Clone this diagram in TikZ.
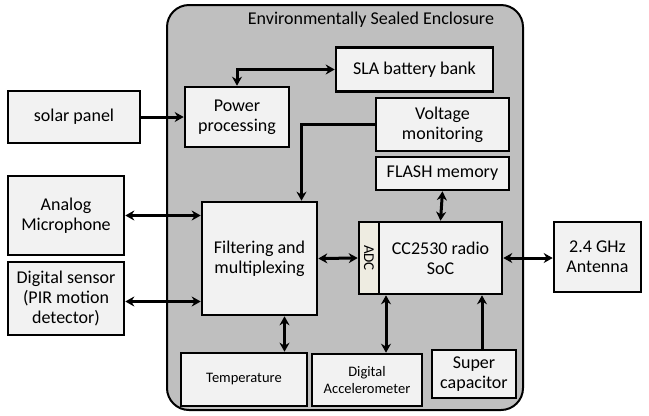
\documentclass[tikz,border=0pt]{standalone}
\usepackage{fontspec}
\setmainfont{Carlito}
\usepackage{tikz}
\usetikzlibrary{arrows.meta}
\usetikzlibrary{positioning}

\definecolor{encfill}{HTML}{BFBFBF}
\definecolor{boxfill}{HTML}{F2F2F2}
\definecolor{adcfill}{HTML}{EEECE1}

\tikzset{
  blk/.style={draw, line width=2.6bp, fill=boxfill, inner sep=0pt, align=center,
    font=\fontsize{18bp}{20bp}\selectfont},
  smallblk/.style={blk, font=\fontsize{14.5bp}{17bp}\selectfont},
  link/.style={line width=3bp},
  >={Stealth[length=9bp,width=10bp]}
}

\begin{document}
\begin{tikzpicture}[x=1bp,y=-1bp]
  \useasboundingbox (0,0) rectangle (649,415);
  \draw[line width=2bp, fill=encfill, rounded corners=22bp] (167,5) rectangle (523,410);
  \node(title) at (371,20) {\fontsize{18bp}{20bp}\selectfont Environmentally Sealed Enclosure};

  \node[blk, minimum width=157bp, minimum height=44bp](sla) at (414.5,69.5) {SLA battery bank};
  \node[blk, minimum width=104bp, minimum height=60bp](power) at (237,117) {Power\\processing};
  \node[blk, minimum width=133bp, minimum height=53bp](volt) at (442.5,124.5) {Voltage\\monitoring};
  \node[blk, minimum width=133bp, minimum height=33bp](flash) at (442.5,173.5) {FLASH memory};
  \node[blk, minimum width=123bp, minimum height=72bp](soc) at (440.5,258) {CC2530 radio\\SoC};
  \node[blk, fill=adcfill, minimum width=20bp, minimum height=72bp](adc) at (369,258) {};
  \node[rotate=-90, font=\fontsize{15bp}{17bp}\selectfont](adclabel) at (adc) {ADC};
  \node[blk, minimum width=115bp, minimum height=113bp](filt) at (259.5,258.5) {Filtering and\\multiplexing};
  \node[smallblk, minimum width=126bp, minimum height=53bp](temp) at (244,379.5) {Temperature};
  \node[smallblk, minimum width=110bp, minimum height=52bp](accel) at (367,380) {Digital\\Accelerometer};
  \node[blk, minimum width=84bp, minimum height=48bp](supcap) at (474,374) {Super\\capacitor};

  \node[blk, minimum width=132bp, minimum height=52bp](solar) at (74,117) {solar panel};
  \node[blk, minimum width=116bp, minimum height=79bp](mic) at (66,215.5) {Analog\\Microphone};
  \node[blk, minimum width=116bp, minimum height=73bp](dig) at (66,298.5) {Digital sensor\\(PIR motion\\detector)};
  \node[blk, minimum width=87bp, minimum height=70bp](ant) at (597.5,257) {2.4 GHz\\Antenna};

  \draw[link,<->] (power.north) |- (sla.west);
  \draw[link,->] (solar.east) -- (power.west);
  \draw[link,->] (volt.west) -| ([xshift=42bp]filt.north);
  \draw[link,<->] (mic.east) -- (mic.east -| filt.west);
  \draw[link,<->] ([yshift=-3bp]dig.east) -- ([yshift=-3bp]dig.east -| filt.west);
  \draw[link,<->] (filt.east) -- (adc.west);
  \draw[link,<->] (flash.south) -- (soc.north);
  \draw[link,<->] (soc.east) -- (soc.east -| ant.west);
  \draw[link,<->] ([xshift=25bp]filt.south) -- ([xshift=25bp]filt.south |- temp.north);
  \draw[link,<->] ([xshift=19bp]accel.north) -- ([xshift=19bp]accel.north |- soc.south);
  \draw[link,->] ([xshift=8bp]supcap.north) -- ([xshift=8bp]supcap.north |- soc.south);
\end{tikzpicture}
\end{document}
